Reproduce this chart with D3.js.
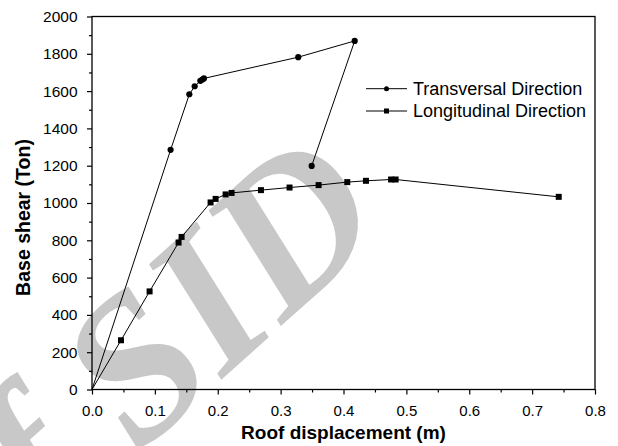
<!DOCTYPE html>
<style>
    body { margin: 0; background: #fff; }
    svg text { font-family: 'Liberation Sans', Arial, sans-serif; }
    .axis .domain { display: none; }
</style>
<svg width="618" height="446"></svg>
<script src="https://cdn.jsdelivr.net/npm/d3@7/dist/d3.min.js"></script>
<script>
    // pushover data
    var transX = [0, 0.125, 0.1548, 0.1633, 0.1723, 0.1755, 0.178, 0.328, 0.4178, 0.3494];
    var transY = [0, 1285, 1583, 1626, 1655, 1662, 1668, 1782, 1869, 1199];
    var longX = [0, 0.0461, 0.0916, 0.1377, 0.1425, 0.1886, 0.1966, 0.2125, 0.222, 0.2687, 0.3142, 0.3604, 0.406, 0.4357, 0.4757, 0.4829, 0.7423];
    var longY = [0, 264, 526, 788, 818, 1003, 1022, 1046, 1054, 1069, 1083, 1096, 1112, 1119, 1126, 1126, 1033];
    var seriesNames = ["Transversal Direction", "Longitudinal Direction"];
    var xTicks = [0, 0.1, 0.2, 0.3, 0.4, 0.5, 0.6, 0.7, 0.8];
    var yTicks = [0, 200, 400, 600, 800, 1000, 1200, 1400, 1600, 1800, 2000];
    var xMinor = [0.05, 0.15, 0.25, 0.35, 0.45, 0.55, 0.65, 0.75];
    var yMinor = [100, 300, 500, 700, 900, 1100, 1300, 1500, 1700, 1900];

    var svg = d3.select("svg"),
        margin = {top: 16.5, right: 23, bottom: 56.5, left: 92},
        width = +svg.attr("width") - margin.left - margin.right,
        height = +svg.attr("height") - margin.top - margin.bottom;

    // watermark, sits behind everything
    svg.append("text")
        .attr("transform", "translate(392,226) rotate(-42)")
        .attr("text-anchor", "end")
        .style("font-family", "'Liberation Serif', serif")
        .style("font-style", "italic")
        .style("font-weight", "bold")
        .style("font-size", "205px")
        .attr("fill", "#c8c8c8")
        .text("Archive of SID");

    var g = svg.append("g").attr("transform", "translate(" + margin.left + "," + margin.top + ")");

    var x = d3.scaleLinear().domain([0, 0.8]).range([0, width]);
    var y = d3.scaleLinear().domain([0, 2000]).range([height, 0]);

    // minor ticks
    g.append("g")
        .attr("class", "axis")
        .attr("transform", "translate(0," + height + ")")
        .call(d3.axisBottom(x).tickValues(xMinor).tickSize(3).tickFormat(""));
    g.append("g")
        .attr("class", "axis")
        .call(d3.axisLeft(y).tickValues(yMinor).tickSize(3).tickFormat(""));

    // major ticks
    g.append("g")
        .attr("class", "axis")
        .attr("transform", "translate(0," + height + ")")
        .call(d3.axisBottom(x).tickValues(xTicks).tickSize(5).tickPadding(10.5).tickFormat(d3.format(".1f")))
        .selectAll("text")
        .attr("fill", "#000")
        .style("font-size", "15px");
    g.append("g")
        .attr("class", "axis")
        .call(d3.axisLeft(y).tickValues(yTicks).tickSize(5).tickPadding(9.5).tickFormat(d3.format("d")))
        .selectAll("text")
        .attr("fill", "#000")
        .style("font-size", "15.5px");

    g.selectAll(".axis line").attr("stroke", "#000").attr("stroke-width", 1.2);

    // frame
    g.append("rect")
        .attr("width", width)
        .attr("height", height)
        .attr("fill", "none")
        .attr("stroke", "#000")
        .attr("stroke-width", 1.3);

    var line = d3.line()
        .x(function(d) { return x(d[0]); })
        .y(function(d) { return y(d[1]); });

    var trans = transX.map(function(v, i) { return [v, transY[i]]; });
    var longi = longX.map(function(v, i) { return [v, longY[i]]; });

    g.append("path").datum(trans)
        .attr("d", line).attr("fill", "none").attr("stroke", "#000").attr("stroke-width", 1);
    g.append("path").datum(longi)
        .attr("d", line).attr("fill", "none").attr("stroke", "#000").attr("stroke-width", 1);

    g.selectAll(".dot").data(trans.slice(1))
        .enter().append("circle")
        .attr("cx", function(d) { return x(d[0]); })
        .attr("cy", function(d) { return y(d[1]); })
        .attr("r", 3.1)
        .attr("fill", "#000");

    g.selectAll(".sq").data(longi.slice(1))
        .enter().append("rect")
        .attr("x", function(d) { return x(d[0]) - 3; })
        .attr("y", function(d) { return y(d[1]) - 3; })
        .attr("width", 6)
        .attr("height", 6)
        .attr("fill", "#000");

    // legend
    var legend = svg.append("g")
        .selectAll("g")
        .data(seriesNames)
        .enter().append("g")
        .attr("transform", function(d, i) { return "translate(366," + (88.7 + i * 22.3) + ")"; });

    legend.append("line")
        .attr("x1", 0).attr("x2", 41)
        .attr("stroke", "#000").attr("stroke-width", 1);
    legend.filter(function(d, i) { return i === 0; }).append("circle")
        .attr("cx", 20.5).attr("r", 2.5).attr("fill", "#000");
    legend.filter(function(d, i) { return i === 1; }).append("rect")
        .attr("x", 18).attr("y", -2.5).attr("width", 5).attr("height", 5).attr("fill", "#000");
    legend.append("text")
        .attr("x", 47)
        .attr("dy", "0.36em")
        .style("font-size", "18px")
        .text(function(d) { return d; });

    // axis titles
    svg.append("text")
        .attr("x", margin.left + width / 2)
        .attr("y", 439)
        .attr("text-anchor", "middle")
        .style("font-size", "19px")
        .style("font-weight", "bold")
        .text("Roof displacement (m)");

    svg.append("text")
        .attr("transform", "translate(30,217.5) rotate(-90)")
        .attr("text-anchor", "middle")
        .style("font-size", "19.5px")
        .style("font-weight", "bold")
        .text("Base shear (Ton)");
</script>
